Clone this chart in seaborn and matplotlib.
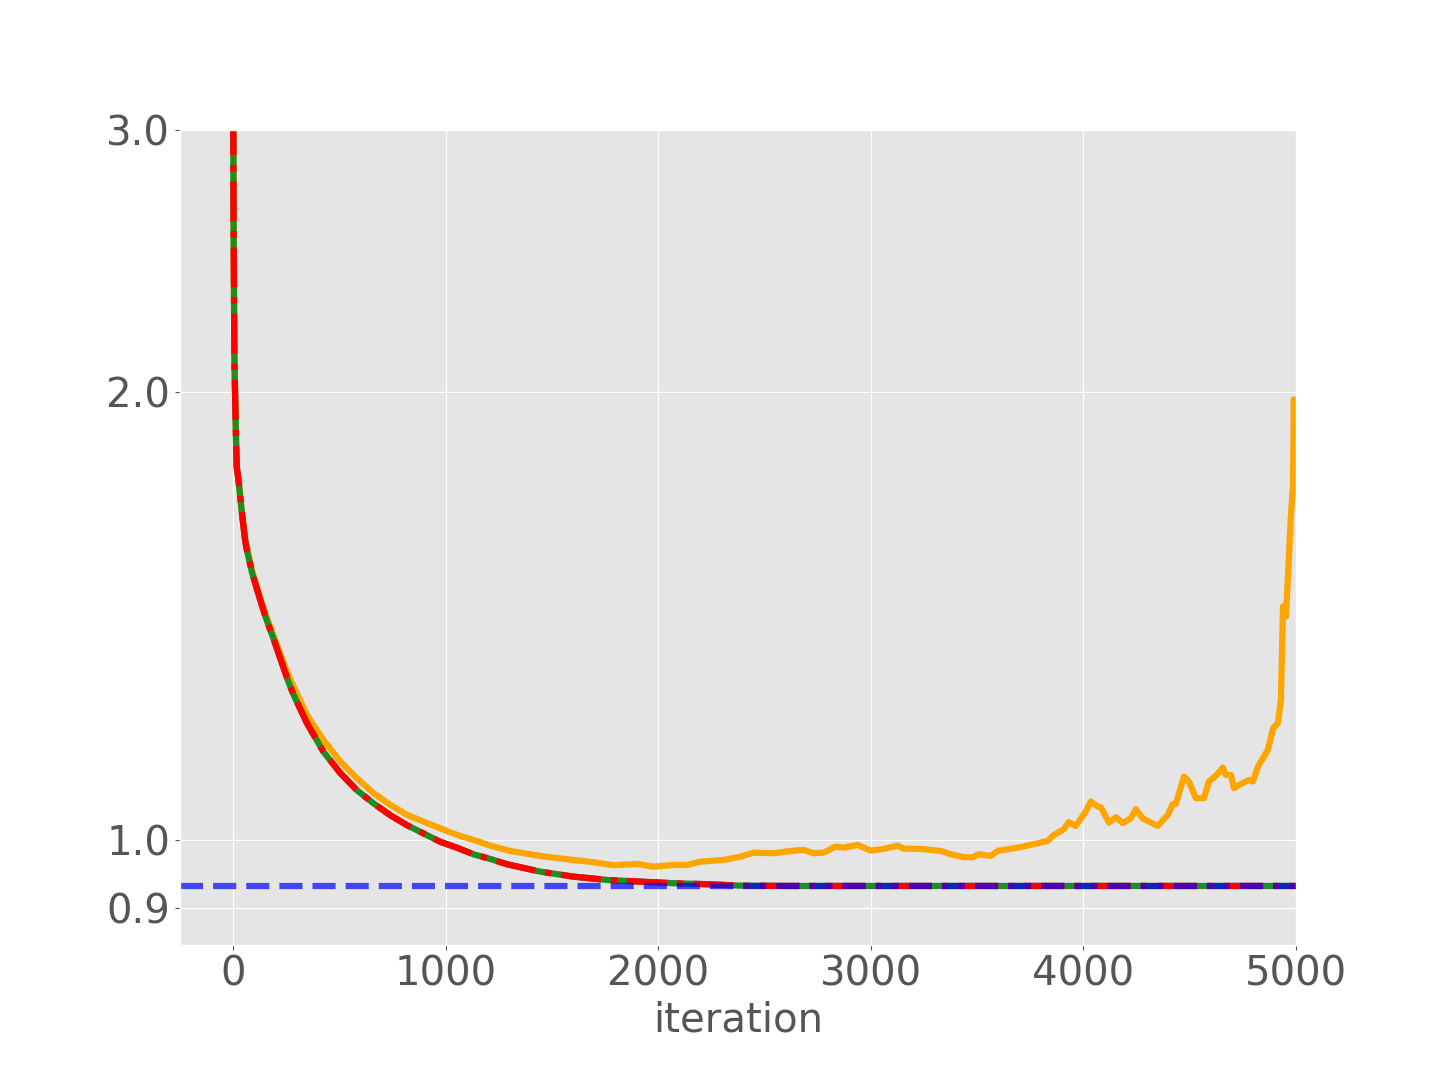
import numpy as np
import pandas as pd
import matplotlib
matplotlib.use('Agg')
import matplotlib.pyplot as plt
import matplotlib.ticker as mticker
import seaborn as sns

# values
fit_iter = [0, 2, 6, 12, 17, 25, 40, 56, 64, 90, 127, 151, 200, 260, 284, 347, 425, 504,
            582, 661, 739, 818, 896, 975, 1053, 1131, 1210, 1289, 1445, 1602, 1759, 1916,
            2073, 2230, 2387, 2600, 3000, 3500, 4000, 4500, 5000]
fit_loss = [3.4, 2.6, 2.1, 1.9, 1.78, 1.746, 1.665, 1.591, 1.567, 1.51, 1.45, 1.414, 1.352,
            1.277, 1.252, 1.198, 1.146, 1.109, 1.08, 1.058, 1.039, 1.023, 1.01, 0.997,
            0.988, 0.978, 0.971, 0.963, 0.9521, 0.9448, 0.94, 0.9375, 0.9352, 0.9338,
            0.9317, 0.9313, 0.9313, 0.9313, 0.9313, 0.9313, 0.9313]

run_iter = [0, 2, 6, 12, 17, 25, 40, 56, 90, 127, 151, 200, 260, 284, 347, 425, 504, 582,
            661, 739, 818, 896, 975, 1053, 1131, 1210, 1304, 1445, 1601, 1695, 1789, 1902,
            1977, 2072, 2137, 2199, 2307, 2387, 2448, 2542, 2622, 2684, 2731, 2778, 2834,
            2872, 2938, 2999, 3060, 3126, 3154, 3234, 3329, 3376, 3437, 3479, 3507, 3564,
            3597, 3691, 3766, 3832, 3861, 3908, 3931, 3964, 4011, 4035, 4068, 4082, 4120,
            4153, 4185, 4223, 4247, 4280, 4350, 4397, 4421, 4435, 4473, 4496, 4529, 4567,
            4590, 4623, 4656, 4670, 4694, 4708, 4741, 4779, 4797, 4821, 4868, 4892, 4915,
            4929, 4939, 4953, 4976, 4986, 4990, 4995]
run_loss = [3.4, 2.6, 2.1, 1.9, 1.78, 1.746, 1.665, 1.595, 1.515, 1.455, 1.42, 1.36, 1.29,
            1.268, 1.2135, 1.167, 1.129, 1.1, 1.075, 1.0557, 1.0395, 1.0287, 1.018, 1.0078,
            1.0, 0.9912, 0.9831, 0.9755, 0.9695, 0.9661, 0.9616, 0.9635, 0.9595, 0.962,
            0.962, 0.967, 0.9695, 0.9745, 0.9805, 0.9796, 0.9831, 0.9846, 0.9796, 0.9805,
            0.9897, 0.9882, 0.9923, 0.9836, 0.9862, 0.9912, 0.9866, 0.9862, 0.9831,
            0.9781, 0.9736, 0.9736, 0.9781, 0.9755, 0.9831, 0.9882, 0.9934, 0.9985,
            1.0078, 1.0167, 1.0278, 1.0219, 1.0448, 1.0611, 1.0529, 1.0519, 1.0271,
            1.0358, 1.0262, 1.0342, 1.0487, 1.0335, 1.0219, 1.0395, 1.0573, 1.0573,
            1.103, 1.0945, 1.0667, 1.0667, 1.0945, 1.1042, 1.1184, 1.1058, 1.1058, 1.0833,
            1.0905, 1.0973, 1.0945, 1.1201, 1.1495, 1.1887, 1.198, 1.242, 1.435, 1.4129,
            1.6494, 1.7282, 1.9768, 1.7118]

target_loss = 0.9313

x_ticks = [0, 1000, 2000, 3000, 4000, 5000]
y_ticks = [0.9, 1.0, 2.0, 3.0]

df_fit = pd.DataFrame({'iteration': fit_iter, 'loss': fit_loss})
df_run = pd.DataFrame({'iteration': run_iter, 'loss': run_loss})

plt.style.use('ggplot')
fig, ax = plt.subplots(figsize=(14.4, 10.8), dpi=100)
fig.subplots_adjust(left=0.125, right=0.9, bottom=0.125, top=0.88)

lw = 4.5
sns.lineplot(data=df_run, x='iteration', y='loss', ax=ax, color='orange',
             linewidth=lw, errorbar=None)
sns.lineplot(data=df_fit, x='iteration', y='loss', ax=ax, color='forestgreen',
             linewidth=lw, errorbar=None)
sns.lineplot(data=df_fit, x='iteration', y='loss', ax=ax, color='red',
             linewidth=lw, linestyle='-.', errorbar=None)
ax.axhline(target_loss, color='blue', alpha=0.7, linewidth=lw, linestyle='--')

ax.set_yscale('log')
ax.set_ylim(0.85, 3.0)
ax.set_xlim(-250, 5000)
ax.yaxis.set_major_locator(mticker.FixedLocator(y_ticks))
ax.yaxis.set_minor_locator(mticker.NullLocator())
ax.yaxis.set_major_formatter(mticker.FormatStrFormatter('%.1f'))
ax.set_xticks(x_ticks)

ax.tick_params(labelsize=29)
ax.set_xlabel('iteration', fontsize=29, color='#555555')
ax.set_ylabel('')

fig.savefig('out.png', dpi=100)
